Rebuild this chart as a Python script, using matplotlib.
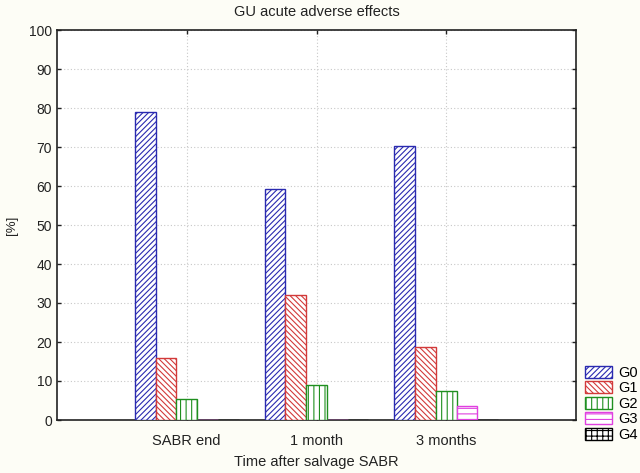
import matplotlib
matplotlib.use("Agg")
import matplotlib.pyplot as plt
import numpy as np
from matplotlib.patches import Patch

plt.rcParams['font.family'] = ['Liberation Sans', 'DejaVu Sans']
plt.rcParams['hatch.linewidth'] = 0.8

categories = ["SABR end", "1 month", "3 months"]
series = ["G0", "G1", "G2", "G3", "G4"]
g0 = [79.0, 59.2, 70.3]
g1 = [16.0, 32.0, 18.7]
g2 = [5.5, 9.0, 7.5]
g3 = [0.0, 0.0, 3.5]
g4 = [0.0, 0.0, 0.0]
values = [g0, g1, g2, g3, g4]

colors = ['#2a2ab0', '#d23a3a', '#1f8f1f', '#e040e0', '#000000']
hatches = ['//////', '\\\\\\\\\\\\', '|||', '---', '+++']

fig = plt.figure(figsize=(6.4, 4.73), dpi=100, facecolor='#fdfdf6')
ax = fig.add_axes([57/640, 1-420/473, (576-57)/640, (420-30)/473])
ax.set_facecolor('white')

x = np.arange(1, len(categories) + 1)
w = 0.16
for i, (vals, c, h) in enumerate(zip(values, colors, hatches)):
    off = (i - 2) * w
    ax.bar(x + off, vals, width=w, facecolor='white', edgecolor=c, hatch=h,
           linewidth=1.0, zorder=3)

ax.set_xlim(0, 4)
ax.set_ylim(0, 100)
ax.set_yticks(np.arange(0, 101, 10))
ax.set_xticks(x)
ax.set_xticklabels(categories)
ax.grid(True, linestyle=(0, (1, 2)), color='#c8c8c8', linewidth=0.8, zorder=0)
ax.tick_params(axis='both', labelsize=10, length=3, width=1, direction='in',
               right=True, top=True, colors='#222222')
ax.tick_params(axis='x', labelsize=10.5, pad=10)
for s in ax.spines.values():
    s.set_linewidth(1.2)
    s.set_color('#222222')

ax.set_title("GU acute adverse effects", fontsize=10.5, pad=10, color='#222222')
ax.set_xlabel("Time after salvage SABR", fontsize=10.5, color='#222222', labelpad=5)
ax.set_ylabel("[%]", fontsize=9.5, color='#222222', labelpad=8)

handles = [Patch(facecolor='white', edgecolor=c, hatch=h, label=s)
           for s, c, h in zip(series, colors, hatches)]
fig.legend(handles=handles, loc='lower left', bbox_to_anchor=(585/640, 1-442/473),
           frameon=False, fontsize=10.5, handlelength=1.85, handleheight=0.9,
           labelspacing=0.1, handletextpad=0.4, borderaxespad=0, borderpad=0)

fig.savefig("out.png", dpi=100, facecolor=fig.get_facecolor())
